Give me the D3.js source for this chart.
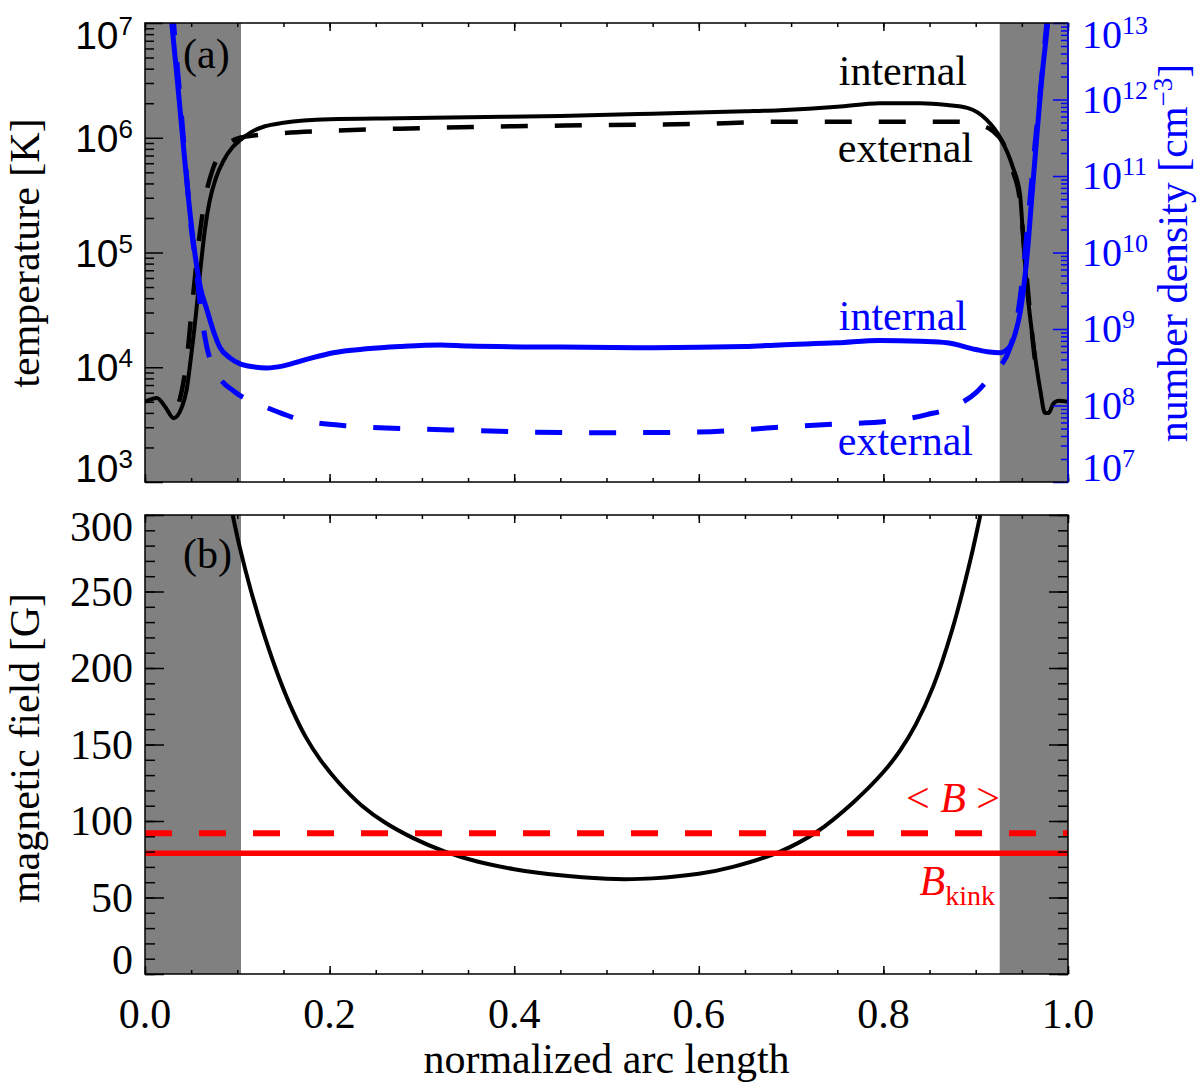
<!DOCTYPE html>
<html>
<head>
<meta charset="utf-8">
<script src="https://cdn.jsdelivr.net/npm/d3@7"></script>
<style>
  body { margin: 0; background: #fff; }
</style>
</head>
<body>
<div id="chart"></div>
<script>
// ---- data ----
// normalized arc length of each sample, and the value there

// (a) temperature, internal (solid black)
const sTempInt = [0.000, 0.013, 0.022, 0.031, 0.040, 0.045, 0.050, 0.055, 0.060, 0.065, 0.070, 0.077, 0.085, 0.095, 0.103,
                  0.115, 0.130, 0.150, 0.200, 0.276, 0.350, 0.450, 0.550, 0.650, 0.688, 0.750, 0.796, 0.840, 0.869, 0.891,
                  0.912, 0.926, 0.940, 0.948, 0.952, 0.956, 0.961, 0.966, 0.970, 0.975, 0.979, 0.984, 0.990, 1.000];
const tempInt  = [5.0e3, 5.4e3, 4.5e3, 3.6e3, 4.5e3, 6.3e3, 1.26e4, 2.8e4, 7.1e4, 1.6e5, 2.8e5, 4.5e5, 6.3e5, 8.3e5, 9.5e5,
                  1.12e6, 1.26e6, 1.35e6, 1.45e6, 1.48e6, 1.51e6, 1.55e6, 1.62e6, 1.70e6, 1.74e6, 1.86e6, 2.0e6, 2.0e6, 1.93e6, 1.82e6,
                  1.43e6, 1.02e6, 5.6e5, 3.2e5, 1.12e5, 4.5e4, 2.0e4, 1.0e4, 6.3e3, 4.0e3, 4.0e3, 4.8e3, 5.1e3, 5.0e3];

// (a) temperature, external (dashed black)
const sTempExt = [0.037, 0.040, 0.045, 0.050, 0.055, 0.060, 0.066, 0.073, 0.082, 0.092, 0.103, 0.120, 0.150, 0.200, 0.276,
                  0.400, 0.500, 0.600, 0.688, 0.800, 0.880, 0.905, 0.918, 0.930, 0.940, 0.948, 0.953, 0.958, 0.963, 0.967];
const tempExt  = [5.0e3, 6.3e3, 1.12e4, 2.8e4, 7.1e4, 1.6e5, 3.2e5, 5.2e5, 7.4e5, 9.1e5, 1.0e6, 1.05e6, 1.10e6, 1.15e6, 1.20e6,
                  1.26e6, 1.29e6, 1.32e6, 1.38e6, 1.38e6, 1.38e6, 1.29e6, 1.15e6, 8.9e5, 5.2e5, 2.8e5, 1.0e5, 3.5e4, 1.4e4, 7.9e3];

// (a) number density, internal (solid blue)
const sDensInt = [0.022, 0.029, 0.035, 0.042, 0.048, 0.054, 0.060, 0.067, 0.074, 0.081, 0.092, 0.103, 0.118, 0.132, 0.150,
                  0.175, 0.204, 0.240, 0.276, 0.320, 0.350, 0.450, 0.550, 0.650, 0.688, 0.750, 0.796, 0.840, 0.869, 0.900,
                  0.915, 0.926, 0.937, 0.943, 0.948, 0.952, 0.956, 0.960, 0.965, 0.971, 0.978, 0.985];
const densInt  = [7.9e13, 1.0e13, 1.8e12, 2.2e11, 4.0e10, 9.8e9, 3.5e9, 1.8e9, 9.5e8, 5.8e8, 4.2e8, 3.5e8, 3.2e8, 3.1e8, 3.3e8,
                  4.0e8, 4.9e8, 5.5e8, 5.9e8, 6.2e8, 6.0e8, 5.8e8, 5.7e8, 5.9e8, 6.2e8, 6.6e8, 7.1e8, 6.9e8, 6.6e8, 5.4e8,
                  5.0e8, 4.9e8, 5.9e8, 8.9e8, 1.6e9, 3.5e9, 1.0e10, 4.0e10, 2.2e11, 1.6e12, 1.0e13, 7.9e13];

// (a) number density, external (dashed blue)
const sDensExt = [0.025, 0.031, 0.037, 0.043, 0.049, 0.055, 0.061, 0.067, 0.076, 0.0975, 0.121, 0.148, 0.168, 0.222, 0.330,
                  0.490, 0.600, 0.688, 0.748, 0.805, 0.847, 0.875, 0.901, 0.919, 0.926, 0.937, 0.945, 0.951, 0.957, 0.963,
                  0.970, 0.977, 0.984];
const densExt  = [7.9e13, 1.0e13, 1.4e12, 2.0e11, 2.8e10, 7.1e9, 1.6e9, 5.8e8, 2.9e8, 1.5e8, 1.07e8, 7.9e7, 6.5e7, 5.4e7, 4.8e7,
                  4.4e7, 4.5e7, 5.2e7, 5.7e7, 6.2e7, 7.6e7, 9.5e7, 1.5e8, 2.6e8, 3.2e8, 5.6e8, 1.4e9, 5.0e9, 2.8e10, 1.8e11,
                  1.26e12, 1.0e13, 7.9e13];

// (b) magnetic field [G]
const sField = [0.095, 0.103, 0.115, 0.130, 0.145, 0.160, 0.175, 0.190, 0.210, 0.235, 0.260, 0.290, 0.325, 0.360, 0.400,
                0.450, 0.500, 0.520, 0.550, 0.600, 0.637, 0.688, 0.728, 0.767, 0.800, 0.818, 0.835, 0.854, 0.875, 0.894,
                0.905];
const field  = [300, 278, 250, 220, 194, 172, 154, 140, 125, 110, 99, 89, 80, 73.5, 68.5,
                64.5, 62.3, 62, 62.5, 65.5, 70, 80, 93, 112, 132, 146, 163, 188, 226, 270,
                300];

const bAvg = 92;    // <B>, dashed red
const bKink = 79;   // B_kink, solid red

// shaded (chromospheric) ends of the loop
const shadeBands = [[0, 0.104], [0.926, 1.0]];

// tick labels
const xTickLabels = [0, 0.2, 0.4, 0.6, 0.8, 1.0];
const tempDecades = [3, 4, 5, 6, 7];
const densDecades = [7, 8, 9, 10, 11, 12, 13];
const fieldTickLabels = [0, 50, 100, 150, 200, 250, 300];

// ---- layout ----
const width = 1200, height = 1088;
const left = 145, right = 1068;
const top1 = 23, bot1 = 482;
const top2 = 515, bot2 = 974;

const serif = '"Liberation Serif", "DejaVu Serif", serif';
const sans = '"Liberation Sans", Arial, sans-serif';
const blue = '#0000ff', red = '#ff0000', shade = '#808080';

const x = d3.scaleLinear().domain([0, 1]).range([left, right]);
const yT = d3.scaleLog().domain([1e3, 1e7]).range([bot1, top1]);
const yN = d3.scaleLog().domain([1e7, 1e13]).range([bot1, top1]);
const yB = d3.scaleLinear().domain([0, 300]).range([bot2, top2]);

const svg = d3.select('#chart').append('svg')
    .attr('width', width)
    .attr('height', height);

svg.append('rect').attr('width', width).attr('height', height).attr('fill', '#fff');

const defs = svg.append('defs');
defs.append('clipPath').attr('id', 'clipA')
  .append('rect').attr('x', left).attr('y', top1).attr('width', right - left).attr('height', bot1 - top1);
defs.append('clipPath').attr('id', 'clipB')
  .append('rect').attr('x', left).attr('y', top2).attr('width', right - left).attr('height', bot2 - top2);

const panelA = svg.append('g').attr('clip-path', 'url(#clipA)');
const panelB = svg.append('g').attr('clip-path', 'url(#clipB)');

// gray bands
[[panelA, top1, bot1], [panelB, top2, bot2]].forEach(([g, t, b]) => {
  g.selectAll('.band')
    .data(shadeBands)
    .enter()
    .append('rect')
    .attr('class', 'band')
    .attr('x', d => x(d[0]))
    .attr('y', t)
    .attr('width', d => x(d[1]) - x(d[0]))
    .attr('height', b - t)
    .attr('fill', shade);
});

function drawCurve(g, sArr, vArr, y, color, w, dash, curve) {
  const line = d3.line()
      .x(d => x(d[0]))
      .y(d => y(d[1]))
      .curve(curve || d3.curveMonotoneX);
  g.append('path')
    .datum(d3.zip(sArr, vArr))
    .attr('d', line)
    .attr('fill', 'none')
    .attr('stroke', color)
    .attr('stroke-width', w)
    .attr('stroke-dasharray', dash || null)
    .attr('stroke-linejoin', 'round');
}

drawCurve(panelA, sTempInt, tempInt, yT, '#000', 4);
drawCurve(panelA, sTempExt, tempExt, yT, '#000', 4.5, '27,27');
drawCurve(panelA, sDensInt, densInt, yN, blue, 5);
drawCurve(panelA, sDensExt, densExt, yN, blue, 5, '27,27');

drawCurve(panelB, sField, field, yB, '#000', 4, null, d3.curveCatmullRom.alpha(0.5));

// red reference lines
panelB.append('line')
  .attr('x1', x(0)).attr('x2', x(1))
  .attr('y1', yB(bAvg)).attr('y2', yB(bAvg))
  .attr('stroke', red).attr('stroke-width', 6).attr('stroke-dasharray', '27,27');
panelB.append('line')
  .attr('x1', x(0)).attr('x2', x(1))
  .attr('y1', yB(bKink)).attr('y2', yB(bKink))
  .attr('stroke', red).attr('stroke-width', 5.5);

// ---- axes ----
function ticks(axis, transform, color) {
  svg.append('g')
    .attr('transform', transform)
    .call(axis)
    .call(a => {
      a.select('.domain').remove();
      a.selectAll('text').remove();
      a.selectAll('line').attr('stroke', color).attr('stroke-width', 1.5);
    });
}

const xMinor = d3.range(0, 1.0001, 0.05);
const logMinor = (lo, hi) => {
  const v = [];
  for (let e = lo; e < hi; e++) for (let k = 2; k <= 9; k++) v.push(k * Math.pow(10, e));
  return v;
};
const tempMinor = logMinor(3, 7);
const densMinor = logMinor(7, 13);
const fieldMinor = d3.range(0, 301, 10);

[[top1, bot1], [top2, bot2]].forEach(([t, b]) => {
  ticks(d3.axisBottom(x).tickValues(xMinor).tickSize(-4), `translate(0,${b})`, '#000');
  ticks(d3.axisBottom(x).tickValues(xTickLabels).tickSize(-8), `translate(0,${b})`, '#000');
  ticks(d3.axisTop(x).tickValues(xMinor).tickSize(-4), `translate(0,${t})`, '#000');
  ticks(d3.axisTop(x).tickValues(xTickLabels).tickSize(-8), `translate(0,${t})`, '#000');
});

ticks(d3.axisLeft(yT).tickValues(tempMinor).tickSize(-9), `translate(${left},0)`, '#000');
ticks(d3.axisLeft(yT).tickValues(tempDecades.map(e => Math.pow(10, e))).tickSize(-18), `translate(${left},0)`, '#000');
ticks(d3.axisRight(yN).tickValues(densMinor).tickSize(-7), `translate(${right},0)`, blue);
ticks(d3.axisRight(yN).tickValues(densDecades.map(e => Math.pow(10, e))).tickSize(-15), `translate(${right},0)`, blue);

ticks(d3.axisLeft(yB).tickValues(fieldMinor).tickSize(-10), `translate(${left},0)`, '#000');
ticks(d3.axisLeft(yB).tickValues(fieldTickLabels).tickSize(-19), `translate(${left},0)`, '#000');
ticks(d3.axisRight(yB).tickValues(fieldMinor).tickSize(-10), `translate(${right},0)`, '#000');
ticks(d3.axisRight(yB).tickValues(fieldTickLabels).tickSize(-19), `translate(${right},0)`, '#000');

// frames
[[top1, bot1], [top2, bot2]].forEach(([t, b]) => {
  svg.append('rect')
    .attr('x', left).attr('y', t)
    .attr('width', right - left).attr('height', b - t)
    .attr('fill', 'none').attr('stroke', '#000').attr('stroke-width', 1.5);
});
svg.append('line')
  .attr('x1', right).attr('x2', right).attr('y1', top1).attr('y2', bot1)
  .attr('stroke', blue).attr('stroke-width', 1.5);

// ---- tick labels ----
const clampCenter = (y, t, b) => Math.max(t + 12, Math.min(b - 14, y));

function powLabel(px, py, anchor, exp, family, size, supSize, color) {
  const t = svg.append('text')
    .attr('x', px).attr('y', py)
    .attr('text-anchor', anchor)
    .attr('font-family', family)
    .attr('font-size', size)
    .attr('fill', color);
  t.append('tspan').text('10');
  t.append('tspan').attr('dy', -14).attr('font-size', supSize).text(exp);
}

tempDecades.forEach(e => {
  const c = clampCenter(yT(Math.pow(10, e)), top1, bot1);
  powLabel(133, c + 14, 'end', e, sans, 39, 26, '#000');
});
densDecades.forEach(e => {
  const c = clampCenter(yN(Math.pow(10, e)), top1, bot1);
  powLabel(1082, c + 13, 'start', e, serif, 40, 26, blue);
});

svg.selectAll('.ylabB')
  .data(fieldTickLabels)
  .enter()
  .append('text')
  .attr('class', 'ylabB')
  .attr('x', 133)
  .attr('y', d => clampCenter(yB(d), top2, bot2) + 14)
  .attr('text-anchor', 'end')
  .attr('font-family', serif)
  .attr('font-size', 42)
  .text(d => d);

svg.selectAll('.xlab')
  .data(xTickLabels)
  .enter()
  .append('text')
  .attr('class', 'xlab')
  .attr('x', d => x(d))
  .attr('y', 1028)
  .attr('text-anchor', 'middle')
  .attr('font-family', serif)
  .attr('font-size', 42)
  .text(d => d3.format('.1f')(d));

// ---- axis titles ----
function vTitle(px, py, color) {
  return svg.append('text')
    .attr('transform', `translate(${px},${py}) rotate(-90)`)
    .attr('text-anchor', 'middle')
    .attr('font-family', serif)
    .attr('font-size', 42)
    .attr('fill', color);
}
vTitle(39, 253, '#000').text('temperature [K]');
vTitle(39, 748, '#000').text('magnetic field [G]');
const nd = vTitle(1187, 253, blue);
nd.append('tspan').text('number density [cm');
nd.append('tspan').attr('dy', -15).attr('font-size', 27).text('\u22123');
nd.append('tspan').attr('dy', 15).text(']');

svg.append('text')
  .attr('x', x(0.5)).attr('y', 1073)
  .attr('text-anchor', 'middle')
  .attr('font-family', serif)
  .attr('font-size', 42)
  .text('normalized arc length');

// ---- annotations ----
function note(px, py, str, color, anchor) {
  return svg.append('text')
    .attr('x', px).attr('y', py)
    .attr('text-anchor', anchor || 'start')
    .attr('font-family', serif)
    .attr('font-size', 42)
    .attr('fill', color)
    .text(str);
}
note(183, 68, '(a)', '#000');
note(183, 568, '(b)', '#000');
note(967, 85, 'internal', '#000', 'end');
note(973, 162, 'external', '#000', 'end');
note(967, 330, 'internal', blue, 'end');
note(973, 455, 'external', blue, 'end');

const bm = svg.append('text')
  .attr('x', 1000).attr('y', 812)
  .attr('text-anchor', 'end')
  .attr('font-family', serif)
  .attr('font-size', 42)
  .attr('fill', red);
bm.append('tspan').text('< ');
bm.append('tspan').attr('font-style', 'italic').text('B');
bm.append('tspan').text(' >');

const bk = svg.append('text')
  .attr('x', 995).attr('y', 895)
  .attr('text-anchor', 'end')
  .attr('font-family', serif)
  .attr('font-size', 42)
  .attr('fill', red);
bk.append('tspan').attr('font-style', 'italic').text('B');
bk.append('tspan').attr('dy', 10).attr('font-size', 28).text('kink');
</script>
</body>
</html>
